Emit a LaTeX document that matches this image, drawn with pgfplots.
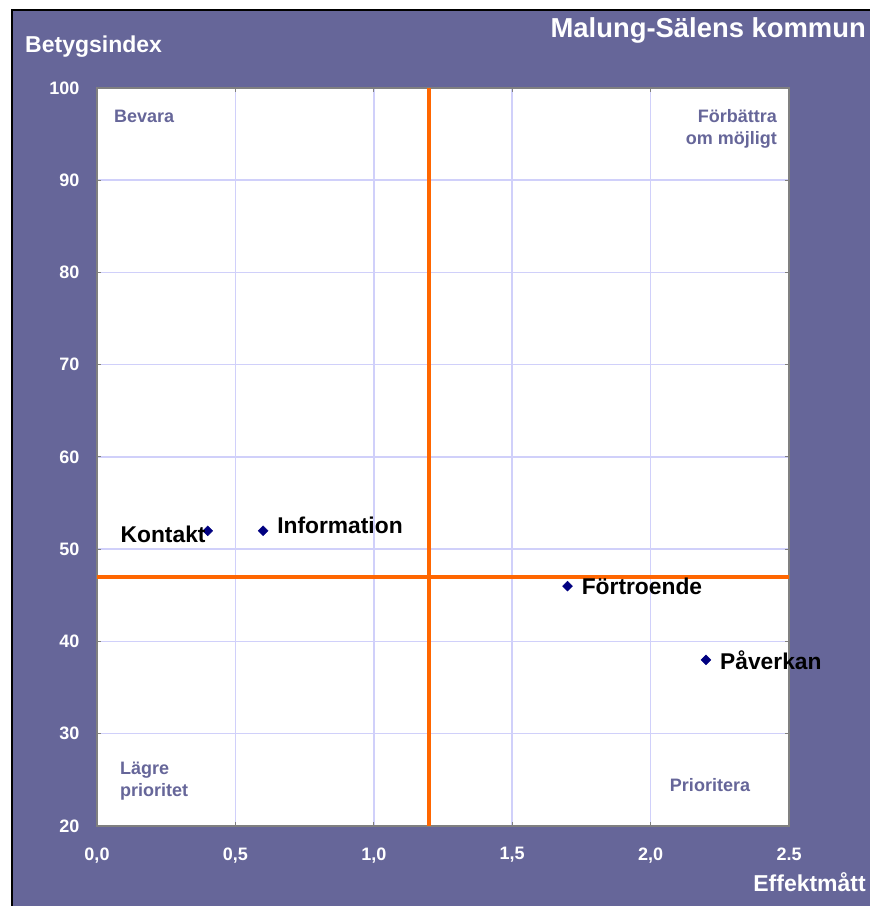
\documentclass[border=0pt]{standalone}
\usepackage{fontspec}
\setmainfont{Liberation Sans}
\usepackage{pgfplots}
\pgfplotsset{compat=1.18}
\definecolor{bgpurple}{RGB}{102,102,153}
\definecolor{gridc}{RGB}{208,208,250}
\definecolor{orangeq}{RGB}{255,102,0}
\definecolor{navym}{RGB}{0,0,128}
\definecolor{framec}{RGB}{128,128,128}
\begin{document}
\begin{tikzpicture}[x=1bp,y=1bp]
\path[use as bounding box] (0,0) rectangle (870,906);
\fill[bgpurple] (12,0) rectangle (870,896);
\draw[black,line width=2bp] (12,0) -- (12,896) -- (870,896);
\begin{axis}[
  at={(97bp,80bp)}, anchor=south west, scale only axis,
  width=692bp, height=738bp,
  xmin=0, xmax=2.5, ymin=20, ymax=100,
  xtick={0,0.5,1,1.5,2,2.5},
  xticklabels={{0,0},{0,5},{1,0},{1,5},{2,0},{2.5}},
  ytick={20,30,40,50,60,70,80,90,100},
  grid=major,
  major grid style={gridc, line width=1.5bp},
  axis line style={framec, line width=2bp},
  axis background/.style={fill=white},
  tick style={framec, line width=1bp},
  tick align=inside, major tick length=4bp,
  /pgf/number format/assume math mode=true,
  ticklabel style={white, font=\fontsize{18bp}{21bp}\selectfont\bfseries},
  x tick label style={yshift=-18bp},
  y tick label style={xshift=-14bp},
  clip=false,
]
\addplot[orangeq, line width=4bp] coordinates {(1.2,20) (1.2,100)};
\addplot[orangeq, line width=4bp] coordinates {(0,47) (2.5,47)};
\addplot[only marks, mark=square*, mark size=3.5bp, mark options={rotate=45}, navym,
  nodes near coords, point meta=explicit symbolic,
  every node near coord/.style={anchor=west, inner sep=0pt, xshift=14bp, yshift=5bp, black, font=\fontsize{22.8bp}{26bp}\selectfont\bfseries}]
  coordinates {(0.6,52) [Information]};
\addplot[only marks, mark=square*, mark size=3.5bp, mark options={rotate=45}, navym,
  nodes near coords, point meta=explicit symbolic,
  every node near coord/.style={anchor=west, inner sep=0pt, xshift=14bp, black, font=\fontsize{22.8bp}{26bp}\selectfont\bfseries}]
  coordinates {(1.7,46) [Förtroende] (2.2,38) [Påverkan]};
\addplot[only marks, mark=square*, mark size=3.5bp, mark options={rotate=45}, navym,
  nodes near coords, point meta=explicit symbolic,
  every node near coord/.style={anchor=east, inner sep=0pt, xshift=-2bp, yshift=-4bp, black, font=\fontsize{22.8bp}{26bp}\selectfont\bfseries}]
  coordinates {(0.4,52) [Kontakt]};
\end{axis}
\node[anchor=west, inner sep=0pt, white, font=\fontsize{23bp}{27bp}\selectfont\bfseries] at (25,859) {Betygsindex};
\node[anchor=east, inner sep=0pt, white, font=\fontsize{27.4bp}{31bp}\selectfont\bfseries] at (866,876) {Malung-Sälens kommun};
\node[anchor=east, inner sep=0pt, white, font=\fontsize{23bp}{26bp}\selectfont\bfseries] at (866,24) {Effektmått};
\begin{scope}[every node/.style={inner sep=0pt, text=bgpurple, font=\fontsize{18bp}{22bp}\selectfont\bfseries}]
\node[anchor=west] at (114,790) {Bevara};
\node[anchor=east, align=right] at (777,777) {Förbättra\\om möjligt};
\node[anchor=west, align=left] at (120,125) {Lägre\\prioritet};
\node at (710,121) {Prioritera};
\end{scope}
\end{tikzpicture}
\end{document}
